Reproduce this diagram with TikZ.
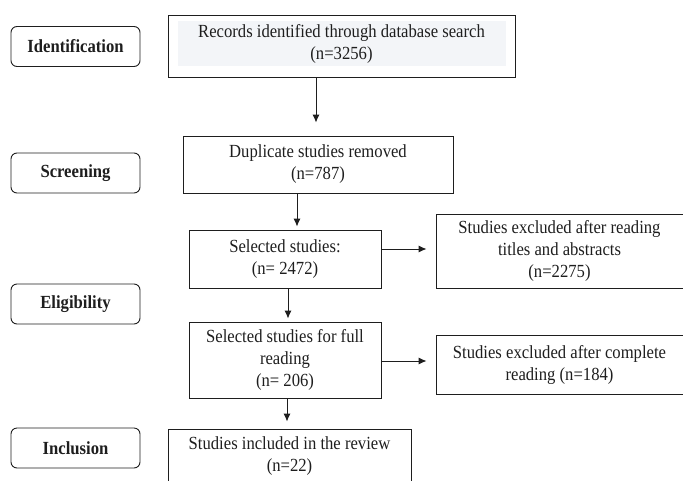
\documentclass[tikz,border=0pt]{standalone}
\usepackage{fontspec}
\setmainfont{Liberation Serif}[FakeStretch=0.9]
\usetikzlibrary{arrows.meta,calc}
\definecolor{ink}{HTML}{1E1E1E}
\definecolor{shadecol}{HTML}{F3F5F8}
\tikzset{
  box/.style={draw=ink, line width=0.9pt, rectangle, align=center, inner sep=0pt,
    font=\fontsize{18.5}{22}\selectfont, text=ink},
  stage/.style={draw=ink, line width=0.9pt, rectangle, rounded corners=6pt, align=center,
    inner sep=0pt, minimum width=129pt, minimum height=40pt,
    font=\fontsize{18.5}{20}\selectfont\bfseries, text=ink},
  arr/.style={draw=ink, line width=0.9pt, -{Latex[length=8pt,width=7pt]}},
}
\begin{document}
\begin{tikzpicture}[x=1pt,y=-1pt]
\clip (0,0) rectangle (683,480);
\fill[white] (0,0) rectangle (683,480);
% stage labels
\node[stage] (ident) at (75.5,46.5) {Identification};
\node[stage] (screen) at (75.5,173) {Screening};
\node[stage] (elig) at (75.5,304) {Eligibility};
\node[stage] (incl) at (75.5,448) {Inclusion};
% boxes
\node[box, minimum width=347pt, minimum height=62pt] (rec) at (341.5,46) {};
\fill[shadecol] (178,21) rectangle (506,66);
\node[box, draw=none] (rectext) at (341.5,44) {Records identified through database search\\(n=3256)};
\node[box, minimum width=270pt, minimum height=57pt] (dup) at (318,164.5) {Duplicate studies removed\\(n=787)};
\node[box, minimum width=192pt, minimum height=58pt] (sel) at (285,259) {Selected studies:\\(n= 2472)};
\node[box, minimum width=247pt, minimum height=74pt] (exc1) at (559.5,251) {Studies excluded after reading\\titles and abstracts\\(n=2275)};
\node[box, minimum width=192pt, minimum height=76pt] (full) at (285,360) {Selected studies for full\\reading\\(n= 206)};
\node[box, minimum width=247pt, minimum height=59pt] (exc2) at (559.5,364.5) {Studies excluded after complete\\reading (n=184)};
\node[box, minimum width=243pt, minimum height=64pt] (inc) at (289.5,461) {};
\node[box, draw=none] (inctext) at (289.5,456) {Studies included in the review\\(n=22)};
% connector anchors
\coordinate (xa) at (316,0);
\coordinate (xb) at (297,0);
\coordinate (xc) at (288,0);
\coordinate (xd) at (287,0);
\coordinate (ya) at (0,249);
\coordinate (yb) at (0,361);
\draw[arr, shorten >=13pt] (rec.south -| xa) -- (dup.north -| xa);
\draw[arr, shorten >=3pt] (dup.south -| xb) -- (sel.north -| xb);
\draw[arr, shorten >=3pt] (sel.south -| xc) -- (full.north -| xc);
\draw[arr, shorten >=9pt] (sel.east |- ya) -- (exc1.west |- ya);
\draw[arr, shorten >=9pt] (full.east |- yb) -- (exc2.west |- yb);
\draw[arr, shorten >=7pt] (full.south -| xd) -- (inc.north -| xd);
\end{tikzpicture}
\end{document}
